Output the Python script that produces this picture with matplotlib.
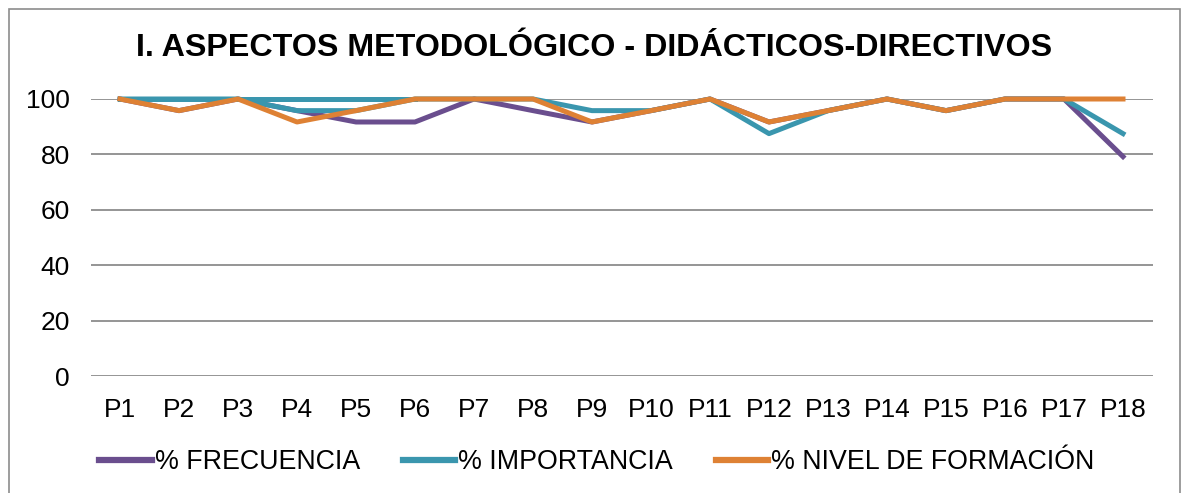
import matplotlib
matplotlib.use("Agg")
import matplotlib.pyplot as plt
import numpy as np
from matplotlib.lines import Line2D
from matplotlib.patches import Rectangle

plt.rcParams['font.family'] = ['Liberation Sans', 'DejaVu Sans']

categories = ["P1", "P2", "P3", "P4", "P5", "P6", "P7", "P8", "P9", "P10",
              "P11", "P12", "P13", "P14", "P15", "P16", "P17", "P18"]
frecuencia = [100, 95.8, 100, 95.8, 91.7, 91.7, 100, 95.8, 91.7, 95.8,
              100, 91.7, 95.8, 100, 95.8, 100, 100, 79.2]
importancia = [100, 100, 100, 95.8, 95.8, 100, 100, 100, 95.8, 95.8,
               100, 87.5, 95.8, 100, 95.8, 100, 100, 87.5]
importancia_extra = [100, 100, 100, 100, 100, 100, np.nan, np.nan, np.nan, np.nan,
                     np.nan, np.nan, np.nan, np.nan, np.nan, np.nan, np.nan, np.nan]
nivel = [100, 95.8, 100, 91.7, 95.8, 100, 100, 100, 91.7, 95.8,
         100, 91.7, 95.8, 100, 95.8, 100, 100, 100]
yticks = [0, 20, 40, 60, 80, 100]
title = "I. ASPECTOS METODOLÓGICO - DIDÁCTICOS-DIRECTIVOS"
labels = ["% FRECUENCIA", "% IMPORTANCIA", "% NIVEL DE FORMACIÓN"]

c_f = "#6A4E8E"
c_i = "#3A96AE"
c_n = "#DE8134"

W, H = 1182, 493
fig = plt.figure(figsize=(W / 100, H / 100), dpi=100)
fig.patches.append(Rectangle((8.5 / W, -10 / H), (1180 - 8.5) / W, (H - 9 + 10) / H,
                             transform=fig.transFigure, fill=False,
                             edgecolor="#8C8C8C", linewidth=1.2))

ax = fig.add_axes([90.5 / W, 117 / H, (1152.5 - 90.5) / W, (376 - 99) / H])
x = np.arange(len(categories))
lw = 3.6
ax.plot(x, frecuencia, color=c_f, lw=lw, solid_joinstyle="round", clip_on=False, zorder=3)
ax.plot(x, importancia_extra, color=c_i, lw=lw, solid_joinstyle="round", clip_on=False, zorder=4)
ax.plot(x, importancia, color=c_i, lw=lw, solid_joinstyle="round", clip_on=False, zorder=4)
ax.plot(x, nivel, color=c_n, lw=lw, solid_joinstyle="round", clip_on=False, zorder=5)

ax.set_xlim(-0.5, len(categories) - 0.5)
ax.set_ylim(0, 100)
ax.set_yticks(yticks)
ax.set_xticks(x)
ax.set_xticklabels(categories, fontsize=19)
ax.tick_params(axis="y", labelsize=19, length=0, pad=15)
ax.tick_params(axis="x", length=0, pad=16)
for s in ax.spines.values():
    s.set_visible(False)
ax.grid(axis="y", color="#8C8C8C", linewidth=1.3, zorder=1)
ax.set_axisbelow(True)

fig.text(594 / W, 1 - 48 / H, title, ha="center", va="center",
         fontsize=23.2, fontweight="bold")

handles = [Line2D([], [], color=c, lw=4.5) for c in (c_f, c_i, c_n)]
fig.legend(handles, labels, loc="center", bbox_to_anchor=(597 / W, 1 - 462 / H),
           ncol=3, frameon=False, fontsize=19.3, handlelength=1.95,
           handletextpad=0.12, columnspacing=1.6)

fig.savefig("out.png", dpi=100)
